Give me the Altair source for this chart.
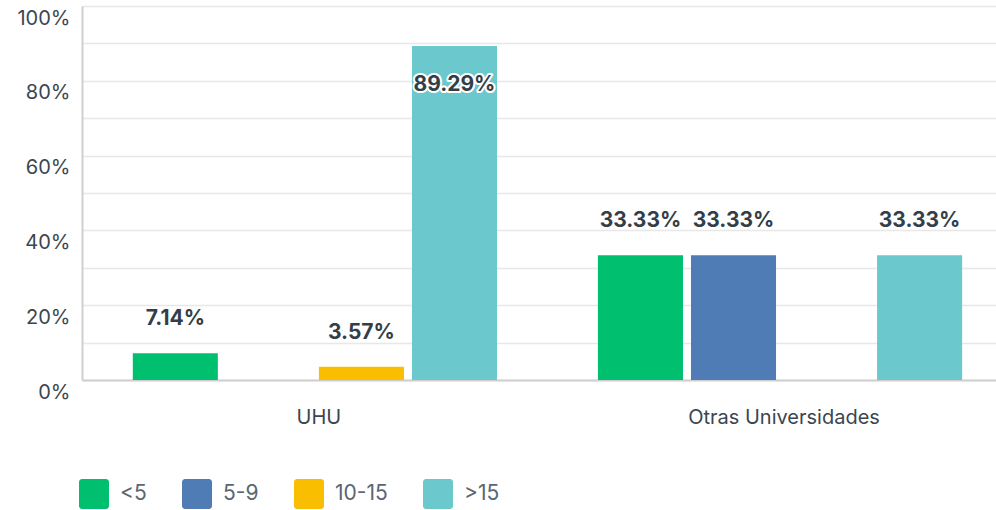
import altair as alt
import pandas as pd

groups = ["UHU", "Otras Universidades"]
series = ["<5", "5-9", "10-15", ">15"]
uhu_values = [7.14, 0.0, 3.57, 89.29]
otras_values = [33.33, 33.33, 0.0, 33.33]
colors = ["#00BF6F", "#507CB6", "#F9BE00", "#6BC8CD"]
y_ticks = [0, 10, 20, 30, 40, 50, 60, 70, 80, 90, 100]

rows = []
for g, vals in zip(groups, [uhu_values, otras_values]):
    for s, v in zip(series, vals):
        rows.append({"group": g, "series": s, "value": v})
df = pd.DataFrame(rows)

FONT = "Inter"
TEXT_DARK = "#333e48"
LABEL = "#3b4650"

rounded = ("M-0.8,-1H0.8A0.2,0.2 0 0 1 1,-0.8V0.8A0.2,0.2 0 0 1 0.8,1"
           "H-0.8A0.2,0.2 0 0 1 -1,0.8V-0.8A0.2,0.2 0 0 1 -0.8,-1Z")

x_enc = alt.X(
    "group:N", sort=groups,
    scale=alt.Scale(domain=groups, paddingInner=0.217, paddingOuter=0.091, align=0.6),
    axis=alt.Axis(title=None, labelAngle=0, ticks=False, labelPadding=27,
                  labelFontSize=20, labelColor=LABEL, labelFont=FONT, labelLimit=0,
                  domainColor="#cfcfcf", domainWidth=2, labelOffset=4),
)
xo_enc = alt.XOffset("series:N", sort=series,
                     scale=alt.Scale(domain=series, paddingInner=0.086, paddingOuter=0))
y_enc = alt.Y(
    "value:Q",
    scale=alt.Scale(domain=[0, 100], nice=False),
    axis=alt.Axis(title=None, values=y_ticks, ticks=False,
                  labelExpr="datum.value % 20 == 0 ? datum.value + '%' : ''",
                  gridColor="#e8e8e8", gridWidth=1.5,
                  domainColor="#cfcfcf", domainWidth=2,
                  labelPadding=12, labelOffset=12, labelFontSize=20,
                  labelColor=LABEL, labelFont=FONT),
)
color_enc = alt.Color(
    "series:N", sort=series,
    scale=alt.Scale(domain=series, range=colors),
    legend=alt.Legend(title=None, orient="none", legendX=-3, legendY=473,
                      direction="horizontal", symbolType=rounded, symbolSize=900,
                      symbolStrokeWidth=0, symbolOpacity=1, labelFontSize=21,
                      labelColor="#5b6670", labelFont=FONT, labelOffset=11,
                      columnPadding=35),
)

base = alt.Chart(df).transform_filter("datum.value > 0").transform_calculate(
    label="format(datum.value, '.2f') + '%'"
)

bars = base.mark_bar().encode(x=x_enc, xOffset=xo_enc, y=y_enc, color=color_enc)

text_common = dict(x=x_enc, xOffset=xo_enc, y=y_enc, text="label:N")

outside = base.transform_filter("datum.value <= 80").mark_text(
    dy=-34, fontSize=21, fontWeight="bold", font=FONT, color=TEXT_DARK
).encode(**text_common)

inside_halo = base.transform_filter("datum.value > 80").mark_text(
    dy=39, fontSize=21, fontWeight="bold", font=FONT, color="white",
    stroke="white", strokeWidth=4, strokeJoin="round"
).encode(**text_common)

inside = base.transform_filter("datum.value > 80").mark_text(
    dy=39, fontSize=21, fontWeight="bold", font=FONT, color=TEXT_DARK
).encode(**text_common)

chart = alt.layer(bars, outside, inside_halo, inside).properties(
    width=914, height=374,
    autosize=alt.AutoSizeParams(type="none"),
    padding={"left": 82, "top": 6, "right": 0, "bottom": 130},
).configure_view(stroke=None).configure(background="white")

chart.save("out.html", embed_options={"renderer": "svg", "actions": False})
